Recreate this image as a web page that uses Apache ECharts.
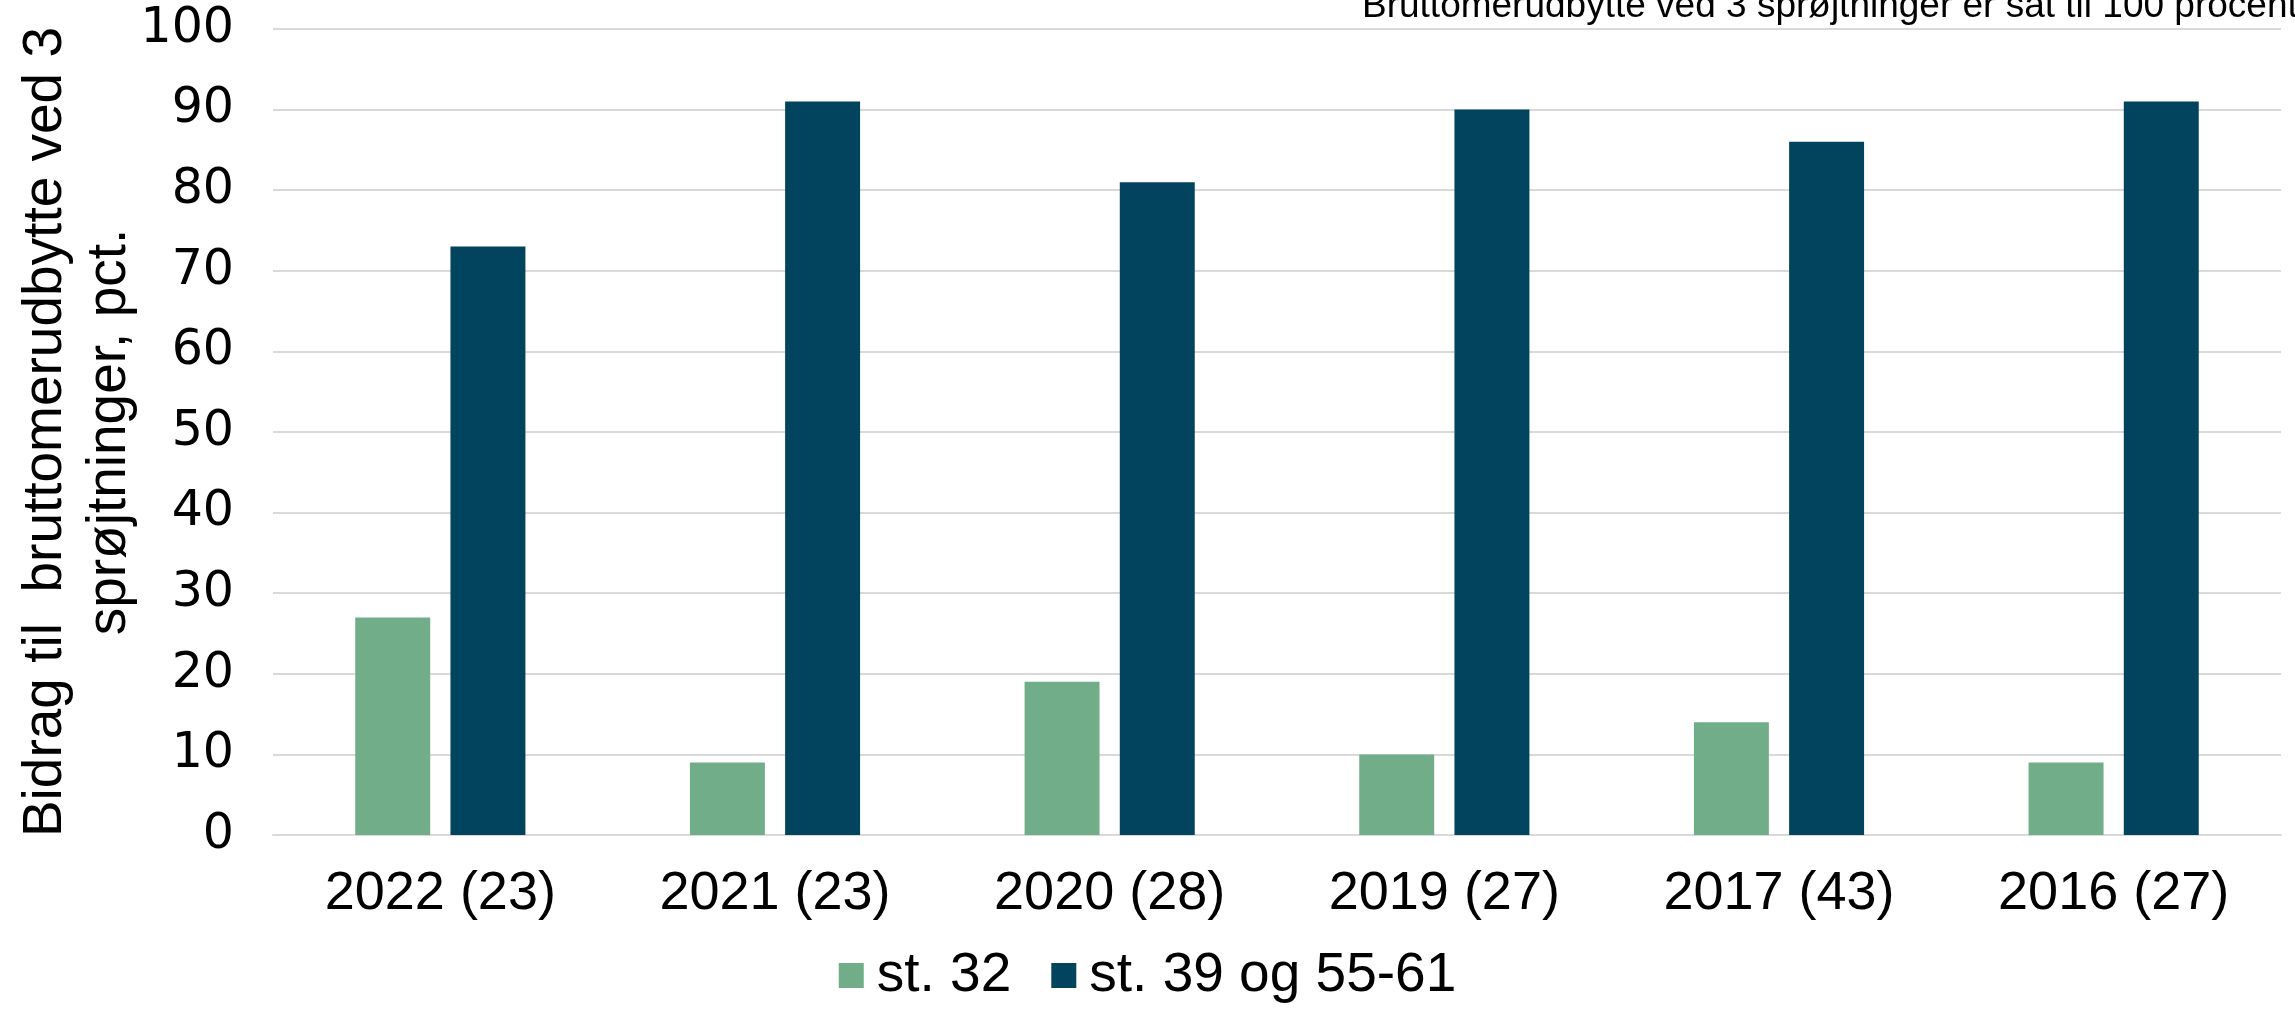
<!DOCTYPE html>
<html>
<head>
<meta charset="utf-8">
<script src="https://cdn.jsdelivr.net/npm/echarts@6/dist/echarts.min.js"></script>
<style>html,body{margin:0;padding:0;background:#fff}#c{width:2295px;height:1014px}</style>
</head>
<body>
<div id="c"></div>
<script>
const categories = ['2022 (23)', '2021 (23)', '2020 (28)', '2019 (27)', '2017 (43)', '2016 (27)'];
const seriesNames = ['st. 32', 'st. 39 og 55-61'];
const st32 = [27, 9, 19, 10, 14, 9];
const st39 = [73, 91, 81, 90, 86, 91];
const yTicks = [0, 10, 20, 30, 40, 50, 60, 70, 80, 90, 100];
const yTitle = 'Bidrag til  bruttomerudbytte ved 3\nsprøjtninger, pct.';
const note = 'Bruttomerudbytte ved 3 sprøjtninger er sat til 100 procent';

const sans = '"Liberation Sans", Arial, sans-serif';
const chart = echarts.init(document.getElementById('c'));
chart.setOption({
  animation: false,
  backgroundColor: '#fff',
  grid: { left: 273, right: 14, top: 29, bottom: 179, containLabel: false, outerBoundsMode: 'none' },
  legend: {
    data: seriesNames,
    bottom: 6,
    left: 'center',
    itemWidth: 25, itemHeight: 25, itemGap: 40,
    icon: 'rect',
    textStyle: { fontFamily: sans, fontSize: 55, color: '#000', padding: [0, 0, 0, 8] }
  },
  xAxis: {
    type: 'category',
    data: categories,
    axisLine: { show: true, lineStyle: { color: '#d9d9d9', width: 2 } },
    axisTick: { show: false },
    axisLabel: { fontFamily: sans, fontSize: 54, color: '#000', margin: 32 }
  },
  yAxis: {
    type: 'value',
    min: yTicks[0], max: yTicks[yTicks.length - 1], interval: 10,
    axisLine: { show: false },
    axisTick: { show: false },
    axisLabel: { fontFamily: '"DejaVu Sans", sans-serif', fontSize: 49, color: '#000', margin: 39 },
    splitLine: { lineStyle: { color: '#d9d9d9', width: 2 } }
  },
  series: [
    { name: seriesNames[0], type: 'bar', data: st32, barWidth: '22.4%', barGap: '27%', itemStyle: { color: '#72ad89' } },
    { name: seriesNames[1], type: 'bar', data: st39, barWidth: '22.4%', itemStyle: { color: '#02435d' } }
  ],
  graphic: [{
    type: 'text', left: 1362, top: -12,
    style: { text: note, fontFamily: sans, fontSize: 37, fill: '#000' }
  }, {
    type: 'text', x: 78, y: 432, rotation: Math.PI / 2,
    style: { text: yTitle, fontFamily: sans, fontSize: 55, lineHeight: 64, fill: '#000', align: 'center', verticalAlign: 'middle' }
  }]
});
</script>
</body>
</html>
